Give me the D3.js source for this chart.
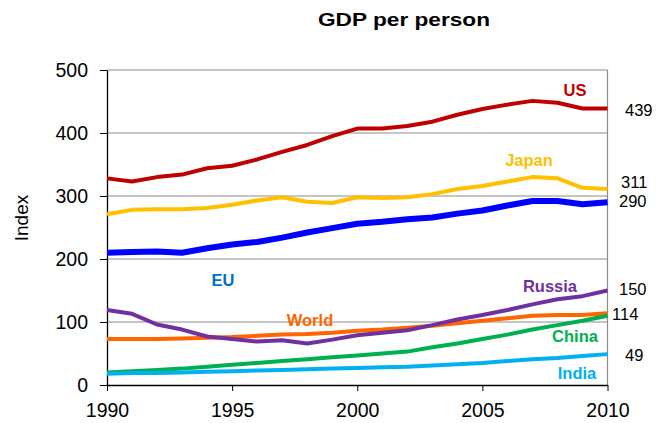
<!DOCTYPE html>
<html>
<head>
<meta charset="utf-8">
<script src="https://cdn.jsdelivr.net/npm/d3@7"></script>
<style>
  html, body { margin: 0; padding: 0; background: #fff; }
  svg { display: block; font-family: Arial, "Liberation Sans", sans-serif; }
</style>
</head>
<body>
<svg id="chart" width="656" height="423"></svg>
<script>
// GDP per person index, 1990-2010
const years = d3.range(1990, 2011);

const us     = [328, 323, 330, 334, 344, 348, 358, 370, 381, 395, 407, 407, 411, 418, 429, 438, 445, 451, 448, 439, 439];
const japan  = [271, 278, 279, 279, 281, 286, 293, 298, 291, 289, 298, 297, 298, 303, 311, 316, 323, 330, 328, 313, 311];
const eu     = [210, 211, 212, 210, 217, 223, 227, 234, 242, 249, 256, 259, 263, 266, 272, 277, 285, 292, 292, 287, 290];
const russia = [119, 113, 96, 88, 77, 73, 69, 71, 66, 72, 79, 83, 87, 95, 104, 111, 119, 128, 136, 141, 150];
const world  = [73, 73, 73, 74, 75, 76, 78, 80, 81, 83, 86, 88, 91, 94, 98, 102, 106, 110, 111, 111, 114];
const china  = [20, 22, 24, 26, 29, 32, 35, 38, 41, 44, 47, 50, 53, 60, 66, 73, 80, 88, 95, 102, 110];
const india  = [18, 19, 19, 20, 21, 22, 23, 24, 25, 26, 27, 28, 29, 31, 33, 35, 38, 41, 43, 46, 49];

const seriesNames = ["World", "China", "India", "Russia", "EU", "Japan", "US"];
const seriesValues = [world, china, india, russia, eu, japan, us];

const yTicks = [0, 100, 200, 300, 400, 500];
const xTicks = [1990, 1995, 2000, 2005, 2010];

// Appearance and label placement for each series
const style = {
  US:     { color: "#c00000", width: 4, label: [575, 96],  endLabel: [625, 116] },
  Japan:  { color: "#ffc000", width: 4, label: [529, 166], endLabel: [621, 188] },
  EU:     { color: "#0000ff", width: 6, label: [223, 286], endLabel: [619, 207], labelColor: "#0070c0" },
  Russia: { color: "#7030a0", width: 4, label: [550, 292], endLabel: [619, 295] },
  World:  { color: "#ff6600", width: 4, label: [310, 326], endLabel: [612, 320] },
  China:  { color: "#00b050", width: 4, label: [575, 342] },
  India:  { color: "#00b0f0", width: 4, label: [577, 379], endLabel: [625, 361] }
};

const svg = d3.select("#chart");
const plot = { left: 107, right: 607.5, top: 70, bottom: 385 };

const x = d3.scaleLinear().domain([1990, 2010]).range([plot.left, plot.right]);
const y = d3.scaleLinear().domain([0, 500]).range([plot.bottom, plot.top]);

// Gridlines
svg.append("g")
  .selectAll("line")
  .data(yTicks.filter(d => d > 0))
  .join("line")
  .attr("x1", plot.left).attr("x2", plot.right)
  .attr("y1", d => y(d)).attr("y2", d => y(d))
  .attr("stroke", "#8c8c8c").attr("stroke-width", 1.2);

// Right border of plot area
svg.append("line")
  .attr("x1", plot.right).attr("x2", plot.right)
  .attr("y1", plot.top).attr("y2", plot.bottom)
  .attr("stroke", "#8c8c8c").attr("stroke-width", 1.2);

// Axes
const yAxis = svg.append("g")
  .attr("transform", `translate(${plot.left},0)`)
  .call(d3.axisLeft(y).tickValues(yTicks).tickSize(7).tickSizeOuter(0).tickPadding(12));
const xAxis = svg.append("g")
  .attr("transform", `translate(0,${plot.bottom})`)
  .call(d3.axisBottom(x).tickValues(xTicks).tickFormat(d3.format("d")).tickSize(6).tickSizeOuter(0).tickPadding(12));

[yAxis, xAxis].forEach(g => {
  g.select(".domain").attr("stroke", "#000").attr("stroke-width", 1.3);
  g.selectAll(".tick line").attr("stroke", "#000").attr("stroke-width", 1);
  g.selectAll(".tick text")
    .attr("fill", "#000")
    .style("font-size", "19.5px")
    .style("font-family", "Arial, 'Liberation Sans', sans-serif");
});

// Lines
const line = d3.line()
  .x((d, i) => x(years[i]))
  .y(d => y(d));

svg.append("g")
  .selectAll("path")
  .data(seriesNames.map((name, i) => ({ name, values: seriesValues[i] })))
  .join("path")
  .attr("d", d => line(d.values))
  .attr("fill", "none")
  .attr("stroke", d => style[d.name].color)
  .attr("stroke-width", d => style[d.name].width)
  .attr("stroke-linejoin", "round")
  .attr("stroke-linecap", "butt");

// Series names
svg.append("g")
  .selectAll("text")
  .data(seriesNames)
  .join("text")
  .attr("x", d => style[d].label[0])
  .attr("y", d => style[d].label[1])
  .attr("text-anchor", "middle")
  .attr("fill", d => style[d].labelColor || style[d].color)
  .style("font-weight", "bold")
  .style("font-size", "16.5px")
  .text(d => d);

// 2010 values
svg.append("g")
  .selectAll("text")
  .data(seriesNames.map((name, i) => ({ name, values: seriesValues[i] })).filter(d => style[d.name].endLabel))
  .join("text")
  .attr("x", d => style[d.name].endLabel[0])
  .attr("y", d => style[d.name].endLabel[1])
  .attr("fill", "#000")
  .style("font-size", "16.5px")
  .text(d => d.values[d.values.length - 1]);

// Title
svg.append("text")
  .attr("x", 318)
  .attr("y", 26)
  .attr("textLength", 172)
  .attr("lengthAdjust", "spacingAndGlyphs")
  .style("font-weight", "bold")
  .style("font-size", "18px")
  .text("GDP per person");

// Y axis title
svg.append("text")
  .attr("transform", "translate(28,218) rotate(-90)")
  .attr("text-anchor", "middle")
  .style("font-size", "19px")
  .text("Index");
</script>
</body>
</html>
